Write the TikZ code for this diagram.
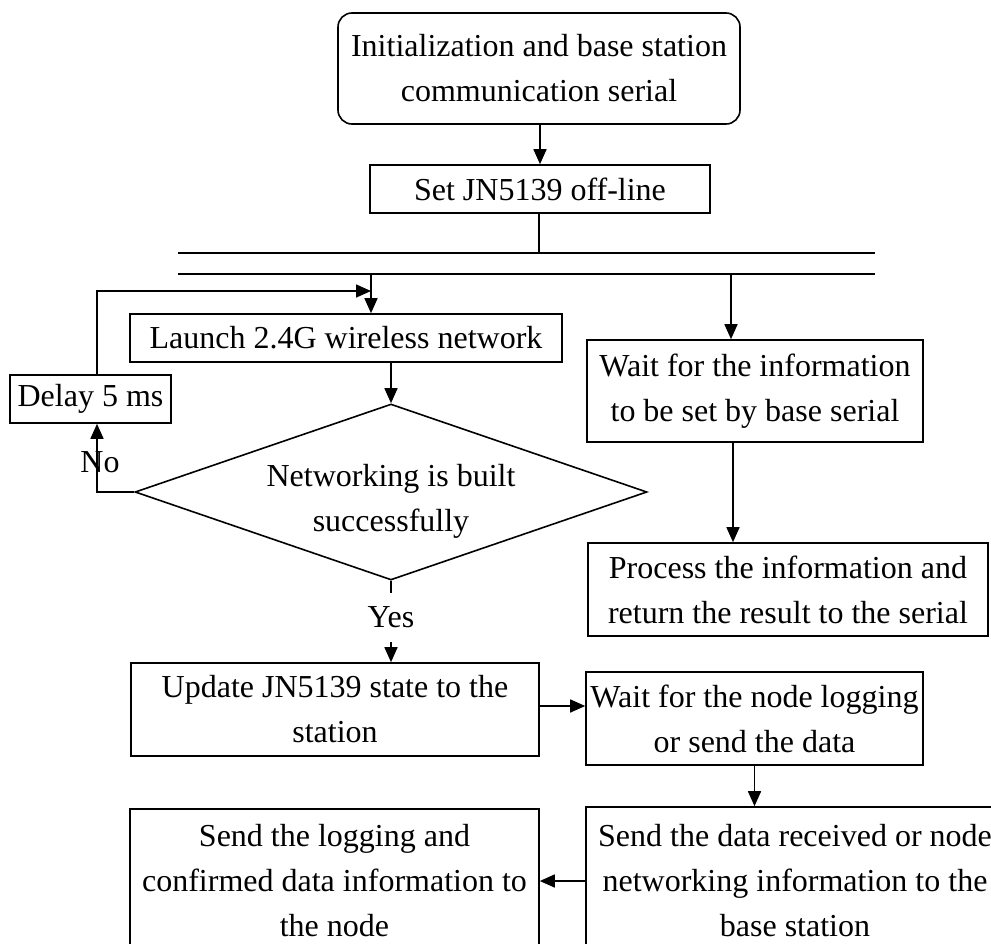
\documentclass[tikz,border=0pt]{standalone}
\usepackage{fontspec}
\setmainfont{Liberation Serif}
\usetikzlibrary{arrows.meta,shapes.geometric}

\tikzset{
  flow/.style={line width=1.6pt, draw=black},
  arr/.style={flow, -{Triangle[length=15pt,width=13pt]}},
  txt/.style={font=\fontsize{32}{45}\selectfont, align=center, inner sep=0pt},
  box/.style={txt, draw, line width=1.6pt, rectangle},
  rbox/.style={box, rounded corners=14pt},
}

\begin{document}
\begin{tikzpicture}[x=1pt, y=-1pt]
  \useasboundingbox (0,0) rectangle (991,943);
  \clip (0,0) rectangle (991,943);

  % main column
  \node[rbox, minimum width=402pt, minimum height=111pt] (init) at (539,68.5)
    {Initialization and base station\\communication serial};
  \node[box, minimum width=340pt, minimum height=48pt] (offline) at (540,189)
    {Set JN5139 off-line};

  % parallel bus
  \coordinate (busA) at (539,253);
  \coordinate (busL1) at (178,253);
  \coordinate (busR1) at (875,253);
  \coordinate (busL2) at (178,274);
  \coordinate (busR2) at (875,274);
  \coordinate (forkL) at (371,274);
  \coordinate (forkR) at (731,274);

  % left branch
  \node[box, minimum width=432pt, minimum height=48pt] (launch) at (346,338)
    {Launch 2.4G wireless network};
  \node[box, minimum width=161pt, minimum height=48pt] (delay) at (90.5,399)
    {Delay 5 ms};
  \node[draw, line width=1.6pt, diamond, minimum width=512pt, minimum height=176pt,
        inner sep=0pt, aspect=2.9] (dec) at (391,492) {};
  \node[txt] (dectext) at (391,501) {Networking is built\\successfully};
  \node[txt, minimum height=49pt] (yes) at (391,617.5) {Yes};
  \node[txt] (no) at (100,462) {No};
  \node[box, minimum width=408pt, minimum height=93pt] (update) at (335,709.5)
    {Update JN5139 state to the\\station};
  \node[box, minimum width=409pt, minimum height=144pt] (sendlog) at (334.5,881)
    {Send the logging and\\confirmed data information to\\the node};

  % right branch
  \node[box, minimum width=336pt, minimum height=102pt] (waitinfo) at (755,391)
    {Wait for the information\\to be set by base serial};
  \node[box, minimum width=400pt, minimum height=93pt] (process) at (788,589.5)
    {Process the information and\\return the result to the serial};
  \node[box, minimum width=337pt, minimum height=93pt] (waitnode) at (754.5,718.5)
    {Wait for the node logging\\or send the data};
  \node[box, minimum width=418pt, minimum height=148pt] (senddata) at (795,881)
    {Send the data received or node\\networking information to the\\base station};

  % loop corner points
  \coordinate (noCorner) at (97,492);
  \coordinate (delayTop) at (97,375);
  \coordinate (loopCorner) at (97,291);
  \coordinate (loopEnd) at (371,291);

  % connectors
  \draw[arr] (init.south -| offline.north) -- (offline.north);
  \draw[flow] (offline.south -| busA) -- (busA);
  \draw[flow] (busL1) -- (busR1);
  \draw[flow] (busL2) -- (busR2);
  \draw[arr] (forkL) -- (forkL |- launch.north);
  \draw[arr] (forkR) -- (forkR |- waitinfo.north);
  \draw[arr] (dec.north |- launch.south) -- (dec.north);
  \draw[arr] (waitinfo.south -| 733,0) -- (process.north -| 733,0);
  \draw[arr] (dec.west) -- (noCorner) -- (noCorner |- delay.south);
  \draw[arr] (delayTop) -- (loopCorner) -- (loopEnd);
  \draw[flow] (dec.south) -- (yes.north);
  \draw[arr] (yes.south) -- (update.north -| yes.south);
  \draw[arr] (update.east |- 0,706) -- (waitnode.west |- 0,706);
  \draw[arr] (waitnode.south) -- (waitnode.south |- senddata.north);
  \draw[arr] (senddata.west) -- (sendlog.east |- senddata.west);
\end{tikzpicture}
\end{document}
